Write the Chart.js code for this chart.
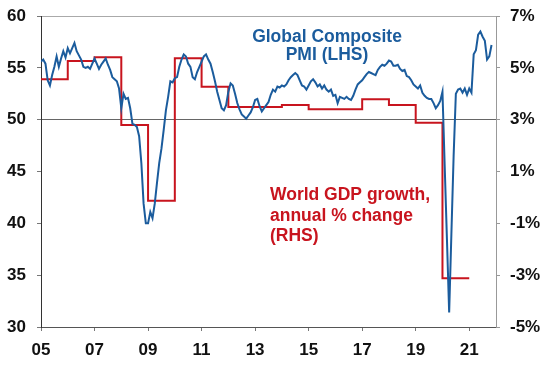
<!DOCTYPE html>
<html>
<head>
<meta charset="utf-8">
<script src="https://cdn.jsdelivr.net/npm/chart.js@4"></script>
<style>
  html, body { margin: 0; padding: 0; background: #fff; }
</style>
</head>
<body>
<canvas id="chart" width="548" height="366"></canvas>
<script>
// Global composite PMI, monthly from Jan 2005
const pmiStart = 2005;
const pmi = [
  55.6, 55.8, 55.4, 53.8, 53.3, 54.3, 55.1, 56.1, 55.1, 55.9, 56.6, 56.0,
  56.9, 56.4, 56.9, 57.4, 56.6, 56.2, 55.8, 55.1, 55.0, 55.1, 54.9, 55.4,
  55.9, 55.4, 54.9, 55.3, 55.6, 55.9, 55.3, 54.8, 54.1, 53.9, 53.7, 53.0,
  51.1, 52.5, 52.0, 52.1, 51.1, 49.6, 49.5, 49.3, 48.4, 45.8, 41.9, 40.0,
  40.0, 41.1, 40.5, 41.9, 43.9, 45.8, 47.2, 49.0, 50.9, 52.2, 53.7, 53.6,
  54.0, 54.1, 55.1, 55.8, 56.3, 56.1, 55.4, 55.1, 54.1, 53.9, 54.6, 55.1,
  55.6, 56.1, 56.3, 55.8, 55.4, 54.6, 53.7, 52.7, 51.9, 51.1, 50.9, 51.4,
  52.7, 53.5, 53.3, 52.5, 51.6, 51.0, 50.5, 50.3, 50.1, 50.4, 50.7, 51.2,
  51.9, 52.0, 51.3, 50.8, 51.1, 51.4, 51.7, 52.4, 52.9, 52.7, 53.2, 53.1,
  53.3, 53.2, 53.4, 53.8, 54.1, 54.3, 54.5, 54.3, 53.8, 53.3, 53.2, 52.9,
  53.3, 53.7, 53.9, 53.6, 53.2, 53.4, 53.0, 53.3, 52.9, 52.7, 52.9, 52.3,
  52.4, 51.6, 52.2, 52.1, 52.0, 52.2, 52.0, 51.9, 52.3, 52.9, 53.4, 53.6,
  53.8, 54.1, 54.4, 54.6, 54.5, 54.4, 54.3, 54.8, 55.1, 55.3, 55.2, 55.4,
  55.7, 55.6, 55.2, 55.2, 55.3, 54.9, 54.7, 54.8, 54.2, 54.1, 53.8, 53.4,
  53.2, 53.0, 53.3, 52.6, 52.3, 52.1, 52.0, 52.0, 51.6, 51.1, 51.4, 51.8,
  52.7, 45.5, 38.5, 31.4, 39.0, 46.5, 52.5, 52.9, 53.0, 52.6, 53.0, 52.4,
  53.0, 52.6, 56.3, 56.7, 58.2, 58.5, 58.0, 57.6, 55.8, 56.1, 57.2
];

// World GDP growth, annual % change
const gdpYears = [2005, 2006, 2007, 2008, 2009, 2010, 2011, 2012, 2013, 2014, 2015, 2016, 2017, 2018, 2019, 2020];
const gdpGrowth = [4.56, 5.26, 5.41, 2.79, -0.13, 5.37, 4.27, 3.49, 3.49, 3.57, 3.40, 3.40, 3.79, 3.57, 2.88, -3.12];

const yearTicks = [2005, 2007, 2009, 2011, 2013, 2015, 2017, 2019, 2021];
const pmiTicks = [30, 35, 40, 45, 50, 55, 60];
const gdpTicks = [-5, -3, -1, 1, 3, 5, 7];

const BLUE = '#1b5c9d';
const RED = '#c8141e';
const FONT = '"Liberation Sans", Arial, sans-serif';

const pmiPoints = pmi.map((v, i) => ({ x: pmiStart + i / 12, y: v }));
const gdpPoints = gdpYears.map((yr, i) => ({ x: yr, y: gdpGrowth[i] }));
// hold the last year's value to the end of that year
gdpPoints.push({ x: gdpYears[gdpYears.length - 1] + 1, y: gdpGrowth[gdpGrowth.length - 1] });

const notes = {
  id: 'notes',
  afterDraw(chart) {
    const c = chart.ctx;
    c.save();
    c.font = 'bold 17.5px ' + FONT;
    c.textBaseline = 'alphabetic';
    c.fillStyle = BLUE;
    c.textAlign = 'center';
    c.fillText('Global Composite', 327, 42);
    c.fillText('PMI (LHS)', 327, 60);
    c.fillStyle = RED;
    c.textAlign = 'left';
    c.fillText('World GDP growth,', 270, 200);
    c.fillText('annual % change', 270, 220.5);
    c.fillText('(RHS)', 270, 241);
    c.restore();
  }
};

const tickFont = { family: FONT, size: 17, weight: 'bold' };

// fixed axis sizes so the plot area sits where the reference has it
const fitY = w => s => { s.width = w; s.paddingTop = 0; s.paddingBottom = 0; };

new Chart(document.getElementById('chart'), {
  type: 'line',
  data: {
    datasets: [
      {
        label: 'Global Composite PMI (LHS)',
        data: pmiPoints,
        yAxisID: 'y',
        borderColor: BLUE,
        borderWidth: 2,
        pointRadius: 0,
        tension: 0,
        order: 1
      },
      {
        label: 'World GDP growth (RHS)',
        data: gdpPoints,
        yAxisID: 'y2',
        borderColor: RED,
        borderWidth: 2,
        pointRadius: 0,
        stepped: true,
        order: 2
      }
    ]
  },
  options: {
    responsive: false,
    animation: false,
    layout: { padding: { top: 16, left: 0, right: 0, bottom: 0 } },
    plugins: { legend: { display: false }, tooltip: { enabled: false } },
    scales: {
      x: {
        type: 'linear',
        min: 2005,
        max: 2022,
        afterBuildTicks: s => { s.ticks = yearTicks.map(v => ({ value: v })); },
        afterFit: s => { s.height = 39; s.paddingLeft = 0; s.paddingRight = 0; },
        grid: { drawOnChartArea: false, tickLength: 4, tickColor: '#777' },
        border: { color: '#555' },
        ticks: { callback: v => String(v).slice(2), font: tickFont, color: '#111', padding: 9, maxRotation: 0, autoSkip: false }
      },
      y: {
        position: 'left',
        min: 30,
        max: 60,
        afterBuildTicks: s => { s.ticks = pmiTicks.map(v => ({ value: v })); },
        afterFit: fitY(41),
        grid: {
          color: ctx => ctx.tick && ctx.tick.value === 50 ? '#666' : (ctx.tick && ctx.tick.value === 60 ? '#aaa' : 'rgba(0,0,0,0)'),
          tickColor: '#777',
          tickLength: 4
        },
        border: { color: '#333' },
        ticks: { font: tickFont, color: '#111', padding: 11 }
      },
      y2: {
        position: 'right',
        min: -5,
        max: 7,
        afterBuildTicks: s => { s.ticks = gdpTicks.map(v => ({ value: v })); },
        afterFit: fitY(52),
        grid: { drawOnChartArea: false, tickColor: '#999', tickLength: 4 },
        border: { color: '#999' },
        ticks: { callback: v => v + '%', font: tickFont, color: '#111', padding: 10 }
      }
    }
  },
  plugins: [notes]
});
</script>
</body>
</html>
